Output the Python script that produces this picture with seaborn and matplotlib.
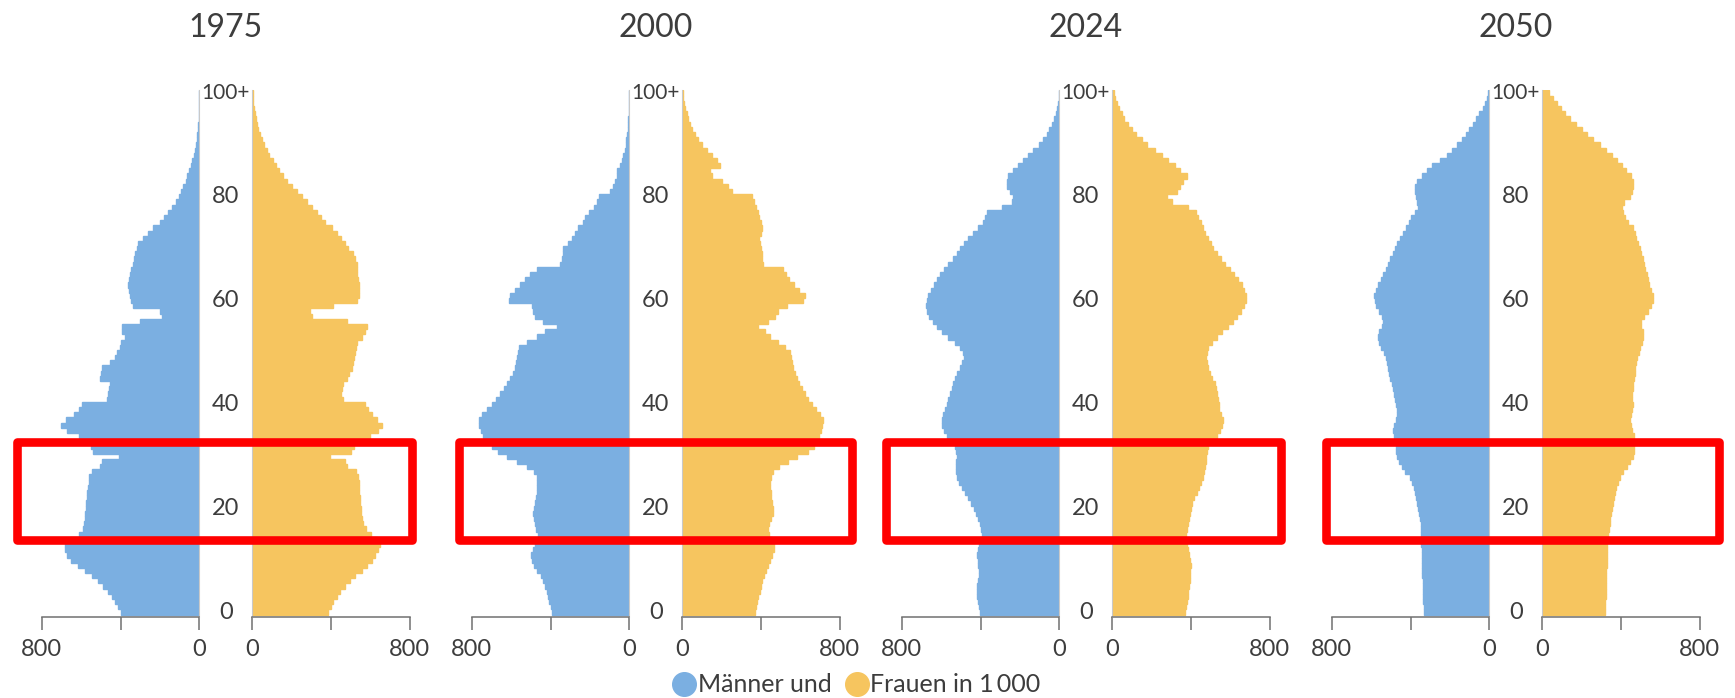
import matplotlib
matplotlib.use("Agg")
import matplotlib.pyplot as plt
from matplotlib.lines import Line2D
from matplotlib.patches import Rectangle
from matplotlib.transforms import blended_transform_factory
import seaborn as sns

# --- data (population in 1000, by single year of age, 100 = 100+) ---
ages = list(range(101))
years = ["1975", "2000", "2024", "2050"]

men_1975 = [399, 411, 428, 445, 462, 487, 513, 547, 580, 614,
            650, 670, 682, 680, 655, 610, 592, 585, 580, 578,
            576, 574, 571, 568, 565, 562, 558, 545, 505, 495,
            410, 540, 550, 560, 610, 670, 700, 675, 635, 610,
            597, 470, 465, 460, 455, 504, 500, 495, 453, 430,
            420, 403, 395, 377, 390, 394, 301, 191, 200, 335,
            345, 350, 355, 360, 355, 350, 345, 335, 330, 325,
            318, 310, 285, 260, 233, 200, 180, 160, 140, 120,
            105, 95, 85, 70, 60, 50, 42, 35, 28, 22,
            17, 13, 10, 7, 5, 4, 3, 2, 1, 1, 1]
women_1975 = [386, 398, 411, 428, 445, 470, 496, 521, 555, 580,
              606, 623, 640, 648, 635, 600, 575, 562, 556, 552,
              550, 548, 546, 544, 542, 540, 536, 525, 480, 470,
              395, 500, 515, 555, 597, 640, 656, 631, 606, 589,
              572, 462, 448, 453, 462, 479, 492, 504, 509, 516,
              521, 526, 533, 555, 572, 580, 479, 301, 293, 411,
              530, 541, 543, 541, 535, 531, 533, 530, 521, 509,
              487, 470, 448, 428, 403, 369, 347, 327, 301, 276,
              250, 225, 200, 178, 157, 137, 120, 103, 86, 73,
              59, 47, 37, 29, 22, 17, 12, 8, 5, 3, 2]

men_2000 = [394, 399, 406, 411, 420, 428, 437, 450, 467, 484,
            494, 497, 491, 479, 467, 464, 474, 481, 486, 487,
            484, 479, 474, 470, 467, 467, 470, 484, 521, 569,
            623, 665, 699, 724, 741, 753, 761, 765, 750, 724,
            699, 677, 656, 636, 619, 606, 592, 582, 575, 569,
            563, 558, 521, 470, 428, 369, 437, 479, 491, 496,
            609, 606, 580, 555, 530, 504, 470, 352, 343, 338,
            335, 310, 293, 276, 259, 237, 225, 203, 179, 166,
            152, 98, 81, 71, 64, 61, 47, 39, 30, 24,
            19, 15, 12, 8, 7, 5, 3, 2, 2, 1, 1]
women_2000 = [369, 374, 381, 386, 394, 399, 406, 415, 425, 435,
              445, 457, 465, 465, 453, 442, 437, 440, 448, 459,
              462, 457, 452, 448, 445, 445, 448, 462, 492, 538,
              580, 640, 670, 690, 695, 702, 711, 716, 699, 678,
              656, 640, 623, 606, 594, 584, 572, 563, 557, 552,
              547, 521, 487, 445, 420, 386, 437, 470, 487, 530,
              614, 623, 594, 567, 543, 526, 513, 411, 404, 403,
              399, 394, 391, 398, 403, 398, 391, 386, 374, 364,
              352, 250, 233, 200, 149, 140, 191, 178, 149, 124,
              98, 81, 64, 51, 39, 30, 22, 15, 10, 5, 3]

men_2024 = [403, 409, 415, 418, 420, 418, 415, 409, 408, 411,
            415, 416, 411, 406, 401, 392, 398, 405, 415, 425,
            435, 448, 462, 478, 495, 510, 520, 525, 525, 522,
            520, 522, 530, 555, 569, 585, 596, 597, 589, 579,
            572, 563, 555, 545, 538, 530, 518, 504, 492, 484,
            487, 504, 530, 563, 597, 623, 643, 660, 670, 677,
            673, 665, 651, 636, 619, 606, 585, 563, 538, 518,
            504, 484, 462, 437, 411, 389, 377, 369, 293, 242,
            233, 250, 267, 264, 259, 233, 208, 183, 157, 132,
            102, 81, 64, 51, 39, 27, 19, 12, 7, 3, 2]
women_2024 = [369, 372, 377, 382, 386, 389, 393, 394, 396, 398,
              394, 389, 382, 377, 374, 374, 378, 384, 390, 395,
              400, 407, 416, 428, 440, 450, 458, 465, 470, 474,
              477, 481, 486, 500, 530, 547, 558, 563, 550, 543,
              540, 536, 531, 526, 519, 508, 496, 486, 479, 477,
              479, 487, 504, 530, 555, 585, 611, 635, 653, 668,
              678, 677, 668, 656, 640, 618, 597, 574, 550, 530,
              513, 499, 486, 472, 462, 448, 437, 425, 386, 301,
              276, 327, 343, 357, 381, 343, 318, 284, 250, 217,
              178, 149, 120, 98, 78, 61, 47, 36, 25, 15, 8]

men_2050 = [332, 333, 335, 335, 337, 338, 338, 340, 340, 342,
            342, 343, 343, 345, 347, 345, 346, 348, 351, 355,
            360, 365, 370, 376, 384, 393, 405, 428, 445, 458,
            466, 472, 476, 480, 482, 487, 482, 475, 470, 470,
            472, 477, 482, 487, 496, 504, 509, 514, 518, 525,
            535, 548, 558, 563, 558, 547, 538, 545, 562, 575,
            582, 584, 575, 563, 550, 538, 525, 514, 504, 491,
            479, 467, 453, 437, 423, 409, 399, 377, 360, 365,
            374, 377, 376, 365, 343, 318, 293, 250, 217, 191,
            162, 140, 120, 102, 85, 68, 51, 34, 22, 12, 5]
women_2050 = [318, 320, 320, 321, 321, 323, 323, 325, 325, 327,
              327, 327, 327, 328, 328, 336, 339, 342, 346, 350,
              355, 359, 364, 369, 376, 385, 396, 412, 430, 447,
              458, 463, 466, 468, 467, 457, 448, 445, 450, 457,
              459, 455, 455, 459, 462, 465, 469, 472, 475, 482,
              489, 496, 506, 513, 513, 501, 503, 516, 538, 552,
              560, 560, 550, 541, 535, 530, 523, 516, 509, 503,
              496, 484, 475, 469, 459, 437, 420, 408, 404, 415,
              445, 453, 462, 459, 448, 425, 403, 377, 352, 323,
              293, 259, 228, 200, 171, 140, 115, 93, 73, 56, 36]

men = [men_1975, men_2000, men_2024, men_2050]
women = [women_1975, women_2000, women_2024, women_2050]

age_ticks = [0, 20, 40, 60, 80, 100]
age_labels = ["0", "20", "40", "60", "80", "100+"]
x_ticks = [0, 400, 800]
x_labels = ["0", "", "800"]
highlight = (13.9, 32.8)   # ages covered by the red boxes
legend_labels = ["Männer und", "Frauen in 1\u2009000"]

BLUE = "#7BAFE1"
YELLOW = "#F6C55F"
TEXT = "#3d3d3d"
AXIS = "#707070"

sns.set_theme(style="white")
plt.rcParams["font.family"] = ["Lato", "DejaVu Sans"]

W, H = 1735, 698
fig = plt.figure(figsize=(W / 100, H / 100), dpi=100)

# layout, in pixels of the output image
step = 430
male_left0 = 41.7
female_left0 = 252.3
side_w = 157.6
ax_bottom, ax_top = 617, 90
pad_left = [25, 13, 16, 6]
pad_right = [2, 12, 11, 19]


def px_rect(left):
    return [left / W, 1 - ax_bottom / H, side_w / W, (ax_bottom - ax_top) / H]


def style_side(ax, is_male):
    ax.set_xlim((800, 0) if is_male else (0, 800))
    ax.set_ylim(-0.96, 100.58)
    ax.set_xlabel("")
    ax.set_ylabel("")
    ax.set_yticks([])
    ax.set_xticks(x_ticks, x_labels)
    for s in ["top", "left", "right"]:
        ax.spines[s].set_visible(False)
    zero = "right" if is_male else "left"
    ax.spines[zero].set_visible(True)
    ax.spines[zero].set_color("#c9c9c9")
    ax.spines[zero].set_linewidth(0.8)
    ax.spines["bottom"].set_color(AXIS)
    ax.spines["bottom"].set_linewidth(1.1)
    ax.tick_params(axis="x", bottom=True, direction="out", length=9.5, width=1.1,
                   color=AXIS, labelsize=17, labelcolor=TEXT, pad=6)
    ax.patch.set_alpha(0)


for i, year in enumerate(years):
    ml = male_left0 + step * i
    fl = female_left0 + step * i
    ax_m = fig.add_axes(px_rect(ml))
    ax_f = fig.add_axes(px_rect(fl))

    # edge in the fill colour closes the hairline seams between age bars
    sns.barplot(x=men[i], y=ages, orient="h", native_scale=True, width=1,
                color=BLUE, saturation=1, errorbar=None,
                linewidth=1.0, edgecolor=BLUE, ax=ax_m)
    sns.barplot(x=women[i], y=ages, orient="h", native_scale=True, width=1,
                color=YELLOW, saturation=1, errorbar=None,
                linewidth=1.0, edgecolor=YELLOW, ax=ax_f)
    style_side(ax_m, True)
    style_side(ax_f, False)

    # age labels in the gap between the two halves
    gap_x = 1 + (fl - ml - side_w) / 2 / side_w
    trans = blended_transform_factory(ax_m.transAxes, ax_m.transData)
    for a, lab in zip(age_ticks, age_labels):
        ax_m.text(gap_x, a, lab, transform=trans, ha="center", va="center",
                  fontsize=15 if lab.endswith("+") else 17, color=TEXT, clip_on=False)

    fig.text((fl + ml + side_w) / 2 / W, 1 - 28 / H, year, ha="center", va="center",
             fontsize=23, color=TEXT)

    # red highlight box
    x0 = (ml - pad_left[i]) / W
    x1 = (fl + side_w + pad_right[i]) / W
    box_trans = blended_transform_factory(fig.transFigure, ax_m.transData)
    box = Rectangle((x0, highlight[0]), x1 - x0, highlight[1] - highlight[0],
                    transform=box_trans, fill=False, edgecolor="#FF0000",
                    linewidth=6.2, joinstyle="round", zorder=10)
    fig.add_artist(box)

handles = [Line2D([], [], ls="", marker="o", markersize=17, markerfacecolor=c,
                  markeredgecolor=c, label=lab)
           for c, lab in zip([BLUE, YELLOW], legend_labels)]
fig.legend(handles=handles, loc="center", bbox_to_anchor=(856 / W, 1 - 685 / H),
           ncol=2, frameon=False, fontsize=18, handletextpad=0.05,
           columnspacing=0.5, handlelength=1.0, borderpad=0, labelcolor=TEXT)

fig.savefig("out.png", dpi=100, facecolor="white")
